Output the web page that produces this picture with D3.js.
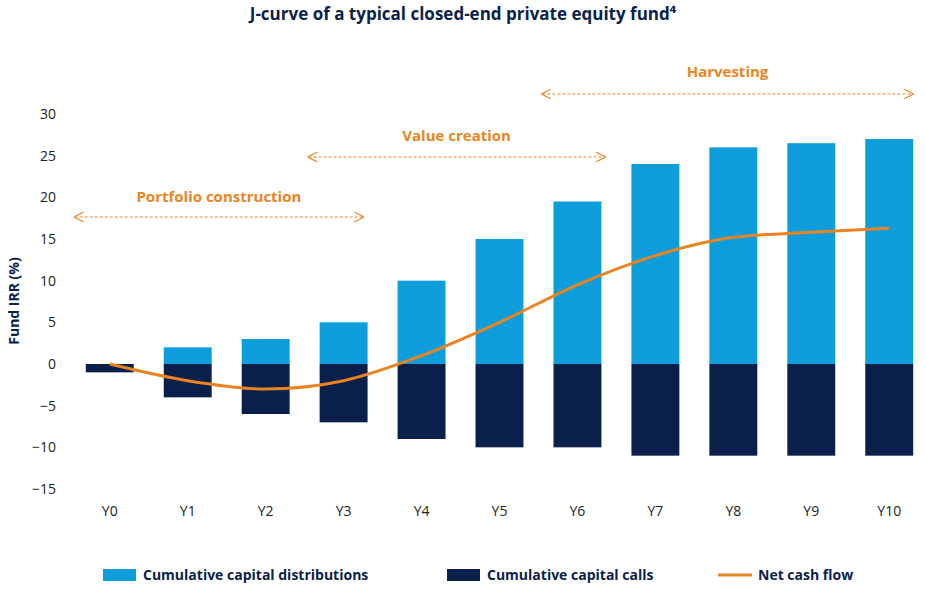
<!DOCTYPE html><html><head><meta charset="utf-8"><script src="https://cdn.jsdelivr.net/npm/d3@7"></script>
<style>body{margin:0;background:#fff}text{font-family:"Open Sans","Noto Sans",sans-serif}</style></head><body>
<svg id="c" width="926" height="600"></svg>
<script>
const years=["Y0","Y1","Y2","Y3","Y4","Y5","Y6","Y7","Y8","Y9","Y10"];
const distributions=[0,2,3,5,10,15,19.5,24,26,26.5,27];
const calls=[-1,-4,-6,-7,-9,-10,-10,-11,-11,-11,-11];
const netCashFlow=[0,-2,-3,-2,1,5,9.5,13,15.2,15.8,16.3];
const yTicks=[30,25,20,15,10,5,0,-5,-10,-15];
const phases=[{name:"Portfolio construction",from:-0.45,to:3.25,ty:197,ay:217},
{name:"Value creation",from:2.55,to:6.35,ty:136,ay:157},
{name:"Harvesting",from:5.55,to:10.3,ty:72,ay:94}];
const C_LIGHT="#0d9ddb",C_DARK="#0a1f4a",C_OR="#ea8420";
const svg=d3.select("#c");
const x=d3.scaleBand().domain(years).range([71,928]).paddingInner(0.385).paddingOuter(0.19);
const y=d3.scaleLinear().domain([-15,30]).range([489,114]);
const xc=i=>x(years[i])+x.bandwidth()/2;
const xi=d3.scaleLinear().domain([0,10]).range([xc(0),xc(10)]);
svg.append("text").attr("x",463).attr("y",20).attr("text-anchor","middle").attr("font-size",17).attr("font-weight",700).attr("fill",C_DARK).text("J-curve of a typical closed-end private equity fund⁴");
svg.selectAll(".d").data(distributions).join("rect").attr("x",(d,i)=>x(years[i])).attr("width",x.bandwidth()).attr("y",d=>y(d)).attr("height",d=>y(0)-y(d)).attr("fill",C_LIGHT);
svg.selectAll(".k").data(calls).join("rect").attr("x",(d,i)=>x(years[i])).attr("width",x.bandwidth()).attr("y",y(0)).attr("height",d=>y(d)-y(0)).attr("fill",C_DARK);
svg.append("path").datum(netCashFlow).attr("d",d3.line().x((d,i)=>xc(i)).y(d=>y(d)).curve(d3.curveMonotoneX)).attr("fill","none").attr("stroke",C_OR).attr("stroke-width",3);
const ya=svg.append("g").attr("transform","translate(60,0)").call(d3.axisLeft(y).tickValues(yTicks).tickSize(0).tickPadding(4));
ya.select(".domain").remove();ya.selectAll("text").attr("font-size",14).attr("fill","#222").style("font-family","Open Sans");
const xa=svg.append("g").attr("transform","translate(0,503)").call(d3.axisBottom(x).tickSize(0));
xa.select(".domain").remove();xa.selectAll("text").attr("font-size",14).attr("fill","#222").style("font-family","Open Sans");
svg.append("text").attr("transform","translate(19,301) rotate(-90)").attr("text-anchor","middle").attr("font-size",14).attr("font-weight",700).attr("fill",C_DARK).text("Fund IRR (%)");
const defs=svg.append("defs");
defs.append("marker").attr("id","ah").attr("viewBox","0 0 10 10").attr("refX",9).attr("refY",5).attr("markerWidth",10).attr("markerHeight",10).attr("markerUnits","userSpaceOnUse").attr("orient","auto-start-reverse").append("path").attr("d","M0,0L10,5L0,10").attr("fill","none").attr("stroke",C_OR).attr("stroke-width",1.2);
phases.forEach(p=>{
 const x1=xi(p.from),x2=xi(p.to);
 svg.append("line").attr("x1",x1).attr("x2",x2).attr("y1",p.ay).attr("y2",p.ay).attr("stroke",C_OR).attr("stroke-width",1.2).attr("stroke-dasharray","3,2").attr("marker-start","url(#ah)").attr("marker-end","url(#ah)");
 svg.append("text").attr("x",(x1+x2)/2).attr("y",p.ty+5).attr("text-anchor","middle").attr("font-size",15).attr("font-weight",700).attr("fill",C_OR).text(p.name);
});
const lg=[{t:"Cumulative capital distributions",c:C_LIGHT,x:103,r:1},{t:"Cumulative capital calls",c:C_DARK,x:447,r:1},{t:"Net cash flow",c:C_OR,x:718,r:0}];
lg.forEach(l=>{
 if(l.r)svg.append("rect").attr("x",l.x).attr("y",569).attr("width",33).attr("height",12).attr("fill",l.c);
 else svg.append("line").attr("x1",l.x).attr("x2",l.x+34).attr("y1",575).attr("y2",575).attr("stroke",l.c).attr("stroke-width",3);
 svg.append("text").attr("x",l.x+40).attr("y",580).attr("font-size",14).attr("font-weight",700).attr("fill",C_DARK).text(l.t);
});
</script></body></html>
